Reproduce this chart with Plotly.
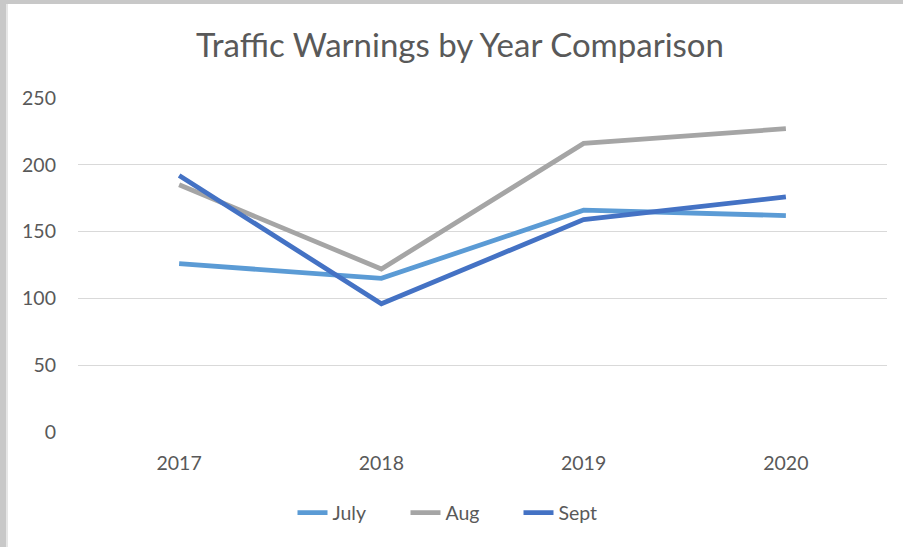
import plotly.graph_objects as go

years = ["2017", "2018", "2019", "2020"]
july = [126, 115, 166, 162]
aug = [185, 122, 216, 227]
sept = [192, 96, 159, 176]
series_names = ["July", "Aug", "Sept"]
colors = ["#5B9BD5", "#A5A5A5", "#4472C4"]

FONT = "Lato"
W, H = 903, 547
L, R, T, B = 78, 16, 98, 115

fig = go.Figure()
for name, vals, c in zip(series_names, [july, aug, sept], colors):
    fig.add_trace(go.Scatter(x=years, y=vals, name=name, mode="lines",
                             line=dict(color=c, width=4.8)))

pw = W - L - R
ph = H - T - B
def px(x):
    return (x - L) / pw
def py(y):
    return (H - B - y) / ph

shapes = [
    dict(type="rect", xref="paper", yref="paper", x0=px(0), x1=px(W), y0=py(0), y1=py(4),
         fillcolor="#C8C8C8", line=dict(width=0), layer="below"),
    dict(type="rect", xref="paper", yref="paper", x0=px(0), x1=px(6), y0=py(0), y1=py(H),
         fillcolor="#C8C8C8", line=dict(width=0), layer="below"),
    dict(type="rect", xref="paper", yref="paper", x0=px(6), x1=px(8), y0=py(4), y1=py(H),
         fillcolor="#E6E6E6", line=dict(width=0), layer="below"),
]

fig.update_layout(
    width=W, height=H,
    margin=dict(l=L, r=R, t=T, b=B),
    paper_bgcolor="white", plot_bgcolor="white",
    title=dict(text="Traffic Warnings by Year Comparison", xref="container", x=460 / W,
               xanchor="center", yref="container", y=1 - 45 / H, yanchor="middle",
               font=dict(family=FONT, size=33, color="#595959")),
    xaxis=dict(type="category", showgrid=False, zeroline=False, showline=False,
               ticks="", tickfont=dict(family=FONT, size=19.5, color="#595959"),
               ticklabelstandoff=17, range=[-0.5, 3.5]),
    yaxis=dict(range=[0, 250], dtick=50, showgrid=True, gridcolor="#D9D9D9", gridwidth=1.3,
               zeroline=False, showline=False, ticks="",
               tickfont=dict(family=FONT, size=19.5, color="#595959"), ticklabelstandoff=21),
    legend=dict(orientation="h", x=px(462), xanchor="center", y=py(513), yanchor="middle",
                font=dict(family=FONT, size=19.5, color="#595959"),
                entrywidth=68, entrywidthmode="pixels", tracegroupgap=0),
    shapes=shapes,
    showlegend=True,
)

fig.write_html("out.html", config={"displayModeBar": False},
               post_script="document.body.style.margin='0';document.body.style.overflow='hidden';")
